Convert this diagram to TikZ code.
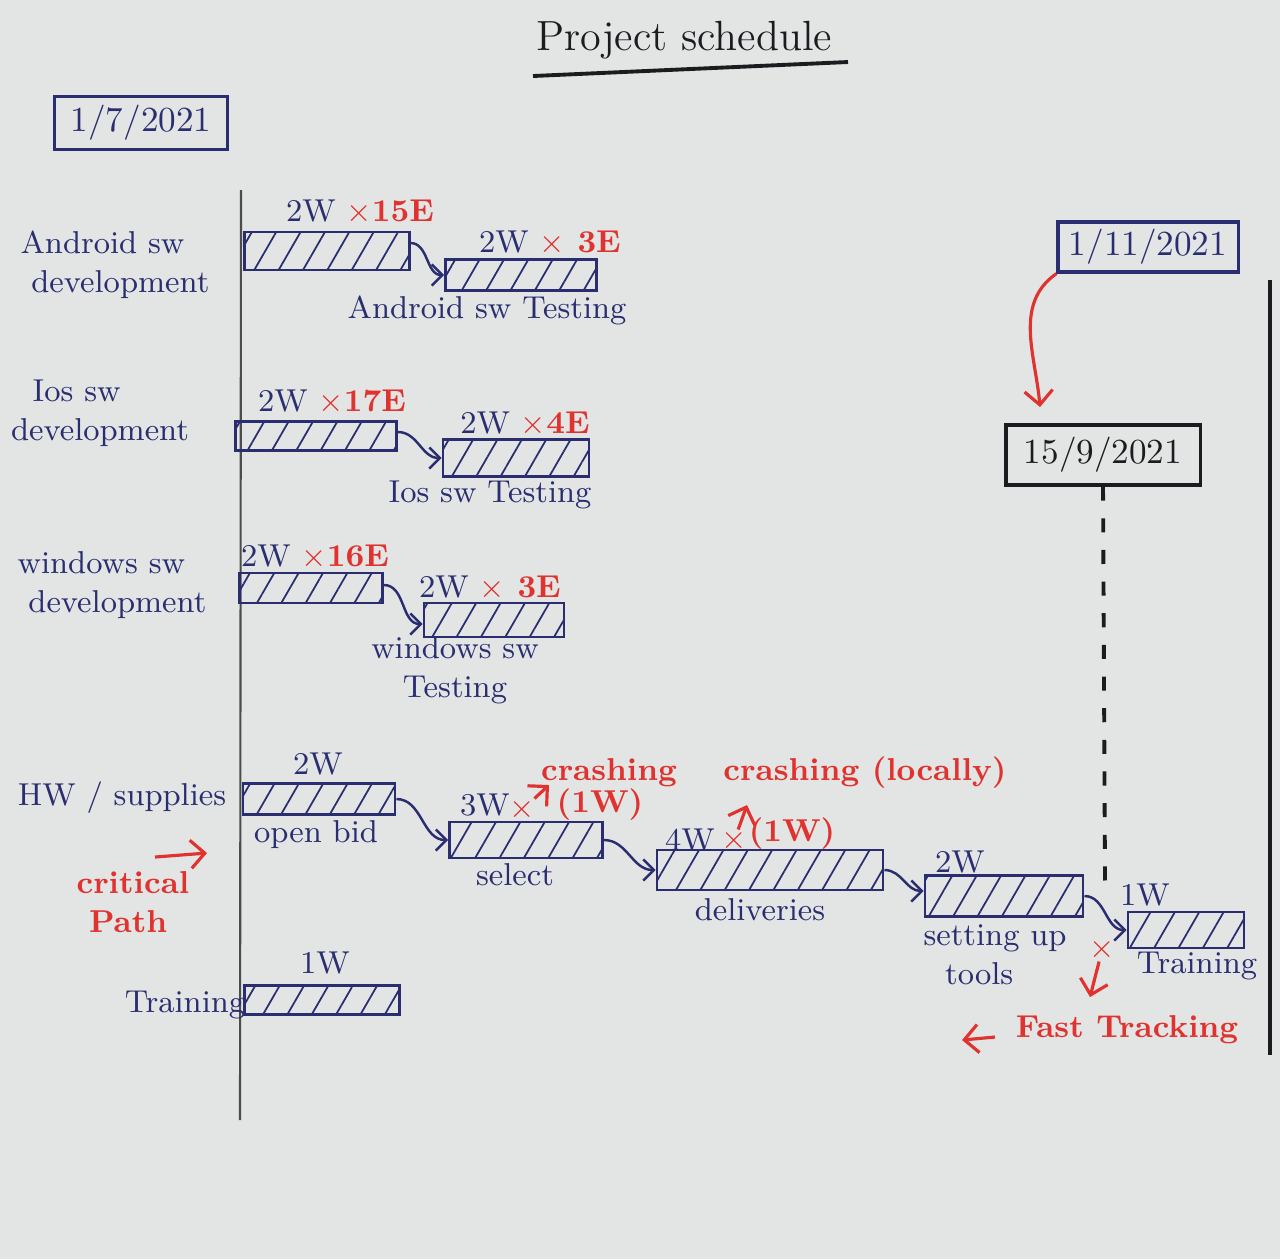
\documentclass[tikz,border=0pt]{standalone}
\usepackage{tikz}
\usetikzlibrary{arrows.meta,patterns.meta}

\definecolor{paper}{RGB}{226,229,228}
\definecolor{inkblue}{RGB}{42,46,112}
\definecolor{inkred}{RGB}{224,50,46}
\definecolor{inkblack}{RGB}{28,28,32}

\begin{document}
\begin{tikzpicture}[
		x=0.01cm, y=-0.01cm,
		every node/.style={inner sep=1pt, text=inkblue, font=\small},
		bar/.style={draw=inkblue, line width=0.8pt,
			pattern={Lines[angle=60, distance=6pt, line width=0.5pt]}, pattern color=inkblue},
		datebox/.style={draw, line width=0.9pt, font=\normalsize},
		link/.style={draw=inkblue, line width=0.7pt, -{Straight Barb[length=3pt]}},
		redarrow/.style={draw=inkred, line width=0.9pt, -{Straight Barb[length=4pt]}},
		rednote/.style={text=inkred, font=\small\bfseries},
		xmark/.style={text=inkred, inner sep=0pt, font=\small\bfseries},
		rowname/.style={align=left}
	]
  \fill[paper] (0,0) rectangle (1280,1259);
  \useasboundingbox (0,0) rectangle (1280,1259);

  \node (title) [text=inkblack, font=\large] at (684,40) {Project schedule};
  \coordinate (ulA) at (533,76);
  \coordinate (ulB) at (848,62);
  \draw[inkblack, line width=1.1pt] (ulA) -- (ulB);

  \node (start) [datebox, draw=inkblue, minimum width=1.73cm, minimum height=0.53cm] at (141,123) {1/7/2021};
  \node (nov) [datebox, draw=inkblue, minimum width=1.80cm, minimum height=0.50cm] at (1148,247) {1/11/2021};
  \node (sep) [datebox, draw=inkblack, text=inkblack, minimum width=1.94cm, minimum height=0.60cm] at (1103,455) {15/9/2021};

  \coordinate (axTop) at (241,190);
  \coordinate (axBot) at (240,1120);
  \draw[gray!60!black, line width=0.6pt] (axTop) -- (axBot);
  \coordinate (edgeTop) at (1270,280);
  \coordinate (edgeBot) at (1270,1055);
  \draw[inkblack, line width=1.1pt] (edgeTop) -- (edgeBot);

  \node (andName) [rowname] at (115,265) {Android sw\\\ development};
  \node (andDev) [bar, minimum width=1.65cm, minimum height=0.38cm] at (327,251) {};
  \node (andDevT) at (360,212) {2W \textcolor{inkred}{\bfseries$\times$15E}};
  \node (andTest) [bar, minimum width=1.51cm, minimum height=0.31cm] at (521,275) {};
  \node (andTestT) at (550,243) {2W \textcolor{inkred}{\bfseries$\times$ 3E}};
  \node (andTestN) at (487,310) {Android sw Testing};
  \draw[link] ([yshift=0.08cm]andDev.east) to[out=0, in=180] (andTest.west);

  \node (iosName) [rowname] at (100,413) {\ \ Ios sw\\development};
  \node (iosDev) [bar, minimum width=1.61cm, minimum height=0.29cm] at (316,436) {};
  \node (iosDevT) at (332,402) {2W \textcolor{inkred}{\bfseries$\times$17E}};
  \node (iosTest) [bar, minimum width=1.46cm, minimum height=0.37cm] at (516,458) {};
  \node (iosTestT) at (525,424) {2W \textcolor{inkred}{\bfseries$\times$4E}};
  \node (iosTestN) at (490,495) {Ios sw Testing};
  \draw[link] ([yshift=0.04cm]iosDev.east) to[out=0, in=180] (iosTest.west);

  \node (winName) [rowname] at (112,585) {windows sw\\\ development};
  \node (winDev) [bar, minimum width=1.43cm, minimum height=0.30cm] at (311,588) {};
  \node (winDevT) at (315,557) {2W \textcolor{inkred}{\bfseries$\times$16E}};
  \node (winTest) [bar, minimum width=1.40cm, minimum height=0.34cm] at (494,620) {};
  \node (winTestT) at (490,588) {2W \textcolor{inkred}{\bfseries$\times$ 3E}};
  \node (winTestN) [align=center] at (455,670) {windows sw\\Testing};
  \draw[link] ([yshift=0.03cm]winDev.east) to[out=0, in=180] ([yshift=-0.04cm]winTest.west);

  \node (hwName) at (122,798) {HW / supplies};
  \node (bid) [bar, minimum width=1.52cm, minimum height=0.31cm] at (319,799) {};
  \node (bidT) at (318,764) {2W};
  \node (bidN) at (316,835) {open bid};
  \node (sel) [bar, minimum width=1.53cm, minimum height=0.36cm] at (526,840) {};
  \node (selT) at (485,805) {3W};
  \node (selN) at (515,875) {select};
  \node (del) [bar, minimum width=2.26cm, minimum height=0.40cm] at (770,870) {};
  \node (delT) at (690,840) {4W};
  \node (delN) at (760,910) {deliveries};
  \node (tools) [bar, minimum width=1.58cm, minimum height=0.41cm] at (1004,896) {};
  \node (toolsT) at (960,862) {2W};
  \node (toolsN) [align=left] at (995,955) {setting up\\\ \ tools};
  \node (train) [bar, minimum width=1.16cm, minimum height=0.36cm] at (1186,930) {};
  \node (trainT) at (1145,895) {1W};
  \node (trainN) at (1197,966) {Training};
  \draw[link] (bid.east) to[out=0, in=180] (sel.west);
  \draw[link] (sel.east) to[out=0, in=180] (del.west);
  \draw[link] (del.east) to[out=0, in=180] ([yshift=0.05cm]tools.west);
  \draw[link] (tools.east) to[out=0, in=180] (train.west);

  \node (trName) at (185,1005) {Training};
  \node (tr) [bar, minimum width=1.55cm, minimum height=0.29cm] at (322,1000) {};
  \node (trT) at (325,963) {1W};

  \node (crashA) [rednote] at (609,773) {crashing};
  \node (crashAw) [rednote] at (600,805) {(1W)};
  \node (crashAx) [xmark] at (522,810) {$\times$};
  \coordinate (crashAtip) at (549,785);
  \draw[redarrow] (crashAx) -- (crashAtip);

  \node (crashB) [rednote] at (865,773) {crashing (locally)};
  \node (crashBw) [rednote] at (792,834) {(1W)};
  \node (crashBx) [xmark] at (734,841) {$\times$};
  \coordinate (crashBtip) at (747,805);
  \draw[redarrow] (crashBx) -- (crashBtip);

  \node (crit) [rednote, align=left] at (133,902) {critical\\\ Path};
  \coordinate (critA) at (155,857);
  \coordinate (critB) at (207,853);
  \draw[redarrow] (critA) -- (critB);

  \node (fastx) [xmark] at (1102,950) {$\times$};
  \coordinate (fastTip) at (1090,997);
  \draw[redarrow] (fastx) -- (fastTip);
  \node (fast) [rednote] at (1127,1030) {Fast Tracking};
  \coordinate (fastArrA) at (995,1037);
  \coordinate (fastArrB) at (962,1040);
  \draw[redarrow] (fastArrA) -- (fastArrB);

  \coordinate (sepTip) at (1040,407);
  \draw[redarrow] (nov.south west) to[out=215, in=95] (sepTip);
  \coordinate (sepEnd) at (1105,882);
  \draw[inkblack, line width=1.1pt, dash pattern=on 4pt off 5pt] (sep.south) -- (sepEnd);
\end{tikzpicture}
\end{document}
